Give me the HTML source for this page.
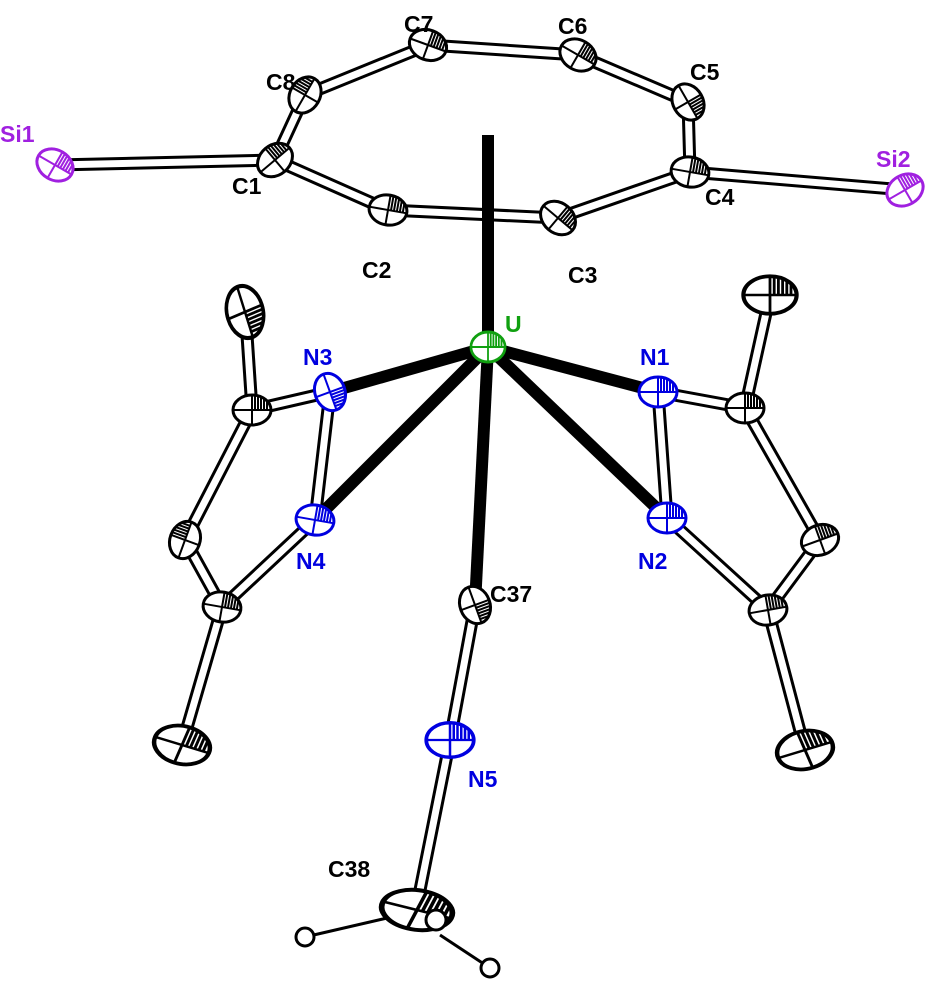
<!DOCTYPE html>
<html><head><style>
html,body{margin:0;padding:0;background:#fff;}
svg{display:block}
text{font-family:"Liberation Sans",sans-serif;font-size:23px;font-weight:bold;}
</style></head><body>
<svg width="950" height="1000" viewBox="0 0 950 1000" xmlns="http://www.w3.org/2000/svg">
<defs>
<g id="a">
<ellipse cx="0" cy="0" rx="19" ry="15" fill="#fff" stroke="currentColor" stroke-width="3"/>
<g stroke="currentColor" stroke-width="2">
<line x1="3" y1="-14.5" x2="3" y2="0"/><line x1="6" y1="-14" x2="6" y2="0"/>
<line x1="9" y1="-13" x2="9" y2="0"/><line x1="12" y1="-11.5" x2="12" y2="0"/>
<line x1="15" y1="-9" x2="15" y2="0"/>
<line x1="-19" y1="0" x2="19" y2="0"/><line x1="0" y1="-15" x2="0" y2="15"/>
</g>
</g>
</defs>
<g stroke-linecap="round">
<g stroke="#000" stroke-width="13">
<path d="M428,45 L578,55 L688,102 L690,172 L558,218 L388,210 L275,160 L305,95 Z" fill="none" stroke-linejoin="round"/>
<line x1="275" y1="160" x2="55" y2="165"/><line x1="690" y1="172" x2="905" y2="190"/>
<line x1="330" y1="392" x2="252" y2="410"/><line x1="252" y1="410" x2="245" y2="305"/>
<line x1="252" y1="410" x2="185" y2="540"/><line x1="185" y1="540" x2="222" y2="607"/>
<line x1="222" y1="607" x2="315" y2="520"/><line x1="222" y1="607" x2="182" y2="745"/>
<line x1="330" y1="392" x2="315" y2="520"/>
<line x1="658" y1="392" x2="745" y2="408"/><line x1="745" y1="408" x2="770" y2="295"/>
<line x1="745" y1="408" x2="820" y2="540"/><line x1="820" y1="540" x2="768" y2="610"/>
<line x1="768" y1="610" x2="667" y2="518"/><line x1="768" y1="610" x2="805" y2="750"/>
<line x1="658" y1="392" x2="667" y2="518"/>
<line x1="475" y1="605" x2="450" y2="740"/><line x1="450" y1="740" x2="417" y2="905"/>
</g>
<g stroke="#fff" stroke-width="7">
<path d="M428,45 L578,55 L688,102 L690,172 L558,218 L388,210 L275,160 L305,95 Z" fill="none" stroke-linejoin="round"/>
<line x1="275" y1="160" x2="55" y2="165"/><line x1="690" y1="172" x2="905" y2="190"/>
<line x1="330" y1="392" x2="252" y2="410"/><line x1="252" y1="410" x2="245" y2="305"/>
<line x1="252" y1="410" x2="185" y2="540"/><line x1="185" y1="540" x2="222" y2="607"/>
<line x1="222" y1="607" x2="315" y2="520"/><line x1="222" y1="607" x2="182" y2="745"/>
<line x1="330" y1="392" x2="315" y2="520"/>
<line x1="658" y1="392" x2="745" y2="408"/><line x1="745" y1="408" x2="770" y2="295"/>
<line x1="745" y1="408" x2="820" y2="540"/><line x1="820" y1="540" x2="768" y2="610"/>
<line x1="768" y1="610" x2="667" y2="518"/><line x1="768" y1="610" x2="805" y2="750"/>
<line x1="658" y1="392" x2="667" y2="518"/>
<line x1="475" y1="605" x2="450" y2="740"/><line x1="450" y1="740" x2="417" y2="905"/>
</g>
</g>
<g stroke="#000" stroke-width="3">
<line x1="305" y1="937" x2="400" y2="915"/><line x1="440" y1="935" x2="490" y2="968"/>
</g>
<circle cx="305" cy="937" r="9" fill="#fff" stroke="#000" stroke-width="3"/>
<circle cx="490" cy="968" r="9" fill="#fff" stroke="#000" stroke-width="3"/>
<g stroke="#000" stroke-width="12">
<line x1="488" y1="135" x2="488" y2="345"/>
<line x1="488" y1="347" x2="330" y2="392"/><line x1="488" y1="347" x2="315" y2="520"/>
<line x1="488" y1="347" x2="658" y2="392"/><line x1="488" y1="347" x2="667" y2="518"/>
<line x1="488" y1="347" x2="475" y2="605"/>
</g>
<g color="#000">
<use href="#a" transform="translate(428,45) rotate(20)"/>
<use href="#a" transform="translate(578,55) rotate(30)"/>
<use href="#a" transform="translate(305,95) rotate(-60)"/>
<use href="#a" transform="translate(688,102) rotate(60)"/>
<use href="#a" transform="translate(275,160) rotate(-40)"/>
<use href="#a" transform="translate(690,172) rotate(10)"/>
<use href="#a" transform="translate(388,210) rotate(10)"/>
<use href="#a" transform="translate(558,218) rotate(40)"/>
<use href="#a" transform="translate(252,410) rotate(0)"/>
<use href="#a" transform="translate(245,312) scale(1.2,1.4) rotate(70)"/>
<use href="#a" transform="translate(185,540) rotate(-70)"/>
<use href="#a" transform="translate(222,607) rotate(10)"/>
<use href="#a" transform="translate(182,745) scale(1.5,1.25) rotate(20)"/>
<use href="#a" transform="translate(745,408) rotate(0)"/>
<use href="#a" transform="translate(770,295) scale(1.4,1.25)"/>
<use href="#a" transform="translate(820,540) rotate(-20)"/>
<use href="#a" transform="translate(768,610) rotate(-10)"/>
<use href="#a" transform="translate(805,750) scale(1.5,1.25) rotate(-20)"/>
<use href="#a" transform="translate(475,605) rotate(70)"/>
<use href="#a" transform="translate(417,910) scale(1.9,1.3) rotate(20)"/>
</g>
<circle cx="436" cy="920" r="10" fill="#fff" stroke="#000" stroke-width="3"/>
<g color="#0000e0">
<use href="#a" transform="translate(330,392) rotate(70)"/>
<use href="#a" transform="translate(658,392) rotate(0)"/>
<use href="#a" transform="translate(315,520) rotate(10)"/>
<use href="#a" transform="translate(667,518) rotate(0)"/>
<use href="#a" transform="translate(450,740) scale(1.25,1.15)"/>
</g>
<g color="#a020e0">
<use href="#a" transform="translate(55,165) rotate(30)"/>
<use href="#a" transform="translate(905,190) rotate(-30)"/>
</g>
<g color="#10a010">
<use href="#a" transform="translate(488,347) scale(0.9,1)"/>
</g>
<g fill="#000">
<text x="404" y="32">C7</text><text x="558" y="34">C6</text>
<text x="266" y="90">C8</text><text x="690" y="80">C5</text>
<text x="232" y="194">C1</text><text x="705" y="205">C4</text>
<text x="362" y="278">C2</text><text x="568" y="283">C3</text>
<text x="490" y="602">C37</text><text x="328" y="877">C38</text>
</g>
<g fill="#0000e0">
<text x="303" y="365">N3</text><text x="640" y="365">N1</text>
<text x="296" y="569">N4</text><text x="638" y="569">N2</text>
<text x="468" y="787">N5</text>
</g>
<g fill="#a020e0"><text x="0" y="142">Si1</text><text x="876" y="167">Si2</text></g>
<text x="505" y="332" fill="#10a010">U</text>
</svg>
</body></html>
